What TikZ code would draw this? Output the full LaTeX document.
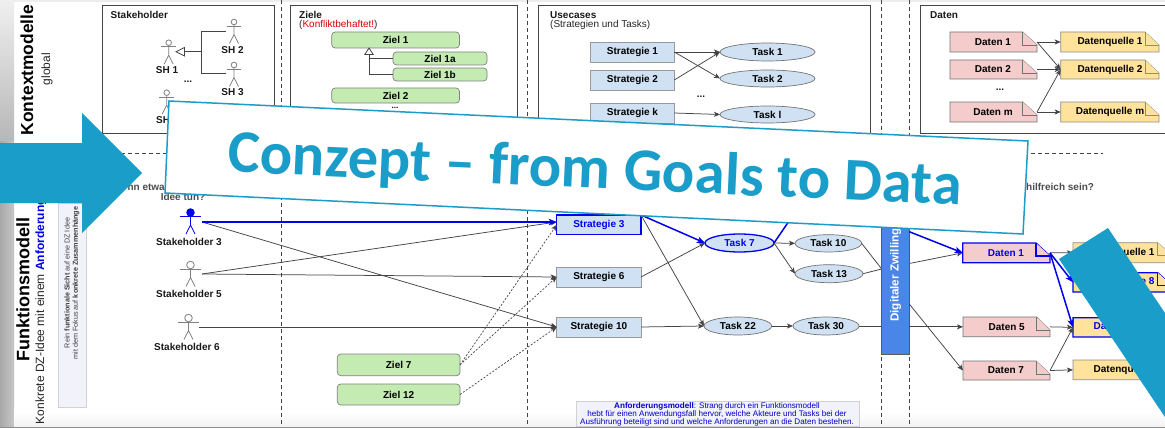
\documentclass[tikz,border=0pt]{standalone}
\usepackage{fontspec}
\setmainfont{Liberation Sans}
\newfontfamily\rktitle{Carlito}
\usetikzlibrary{arrows.meta,shapes.geometric,calc}
\newcommand\rkfs[1]{\fontsize{#1}{#1}\selectfont}
\definecolor{rkteal}{HTML}{1A9DC8}
\definecolor{rkgreen}{HTML}{C3EBB2}
\definecolor{rkblue}{HTML}{CFE1F2}
\definecolor{rkpink}{HTML}{F4CCCC}
\definecolor{rkyellow}{HTML}{FFE29B}
\definecolor{rkpure}{HTML}{0000F0}
\definecolor{rkline}{HTML}{444444}
\definecolor{rkdz}{HTML}{4A86E8}
\definecolor{rknote}{HTML}{F2F2FA}
\newcommand\rkbox[7]{%
  \pgfmathsetmacro\rkW{#5-#3}\pgfmathsetmacro\rkH{#6-#4}%
  \pgfmathsetmacro\rkX{(#3+#5)/2}\pgfmathsetmacro\rkY{(#4+#6)/2}%
  \node[#2,minimum width=\rkW pt,minimum height=\rkH pt,inner sep=0pt,outer sep=0pt] (#1) at (\rkX,\rkY) {#7};}
% name, style, x1,y1,x2,y2, foldx, textx, text
\newcommand\rknoteshape[9]{%
  \pgfmathsetmacro\rkFY{#4+13}%
  \pgfmathsetmacro\rkW{#5-#3}\pgfmathsetmacro\rkH{#6-#4}%
  \pgfmathsetmacro\rkX{(#3+#5)/2}\pgfmathsetmacro\rkY{(#4+#6)/2}%
  \draw[#2] (#3,#4) -- (#7,#4) -- (#5,\rkFY) -- (#5,#6) -- (#3,#6) -- cycle;
  \draw[#2] (#7,#4) -- (#7,\rkFY) -- (#5,\rkFY);
  \node[minimum width=\rkW pt,minimum height=\rkH pt,inner sep=0pt,outer sep=0pt] (#1) at (\rkX,\rkY) {};
  \node[lab,text=\rkNoteText] (#1t) at (#8,\rkY) {#9};}
\newcommand\rkNoteText{black}
% x, y of head, head radius, arm half width, colour
\newcommand\rkactor[5]{%
  \begin{scope}[shift={(#1,#2)},color=#5,line width=.8pt]
    \draw (0,0) circle[radius=#3];
    \draw (-#4,4.2) -- (#4,4.2);
    \draw (0,#3) -- (0,12.5) -- (-4.5,21.5) (0,12.5) -- (4.5,21.5);
  \end{scope}}
\tikzset{
  x=1pt,y=-1pt,
  lab/.style={font=\rkfs{10}\bfseries,inner sep=0pt,text=black!90},
  plain/.style={font=\rkfs{10},inner sep=0pt,anchor=west,text=black!85},
  frame/.style={draw=rkline,line width=.9pt},
  vdash/.style={draw=rkline,line width=.7pt,dash pattern=on 4pt off 3pt},
  goalbox/.style={rectangle,rounded corners=3.5pt,draw=black!50,fill=rkgreen,line width=.7pt,font=\rkfs{10}\bfseries},
  stratbox/.style={rectangle,draw=black!40,fill=rkblue,line width=.8pt,font=\rkfs{10}\bfseries},
  stratsel/.style={rectangle,draw=rkpure,fill=rkblue,line width=1.3pt,font=\rkfs{10}\bfseries,text=rkpure},
  taskell/.style={ellipse,draw=black!55,fill=rkblue,line width=.7pt,font=\rkfs{10}\bfseries},
  tasksel/.style={ellipse,draw=rkpure,fill=rkblue,line width=1.3pt,font=\rkfs{10}\bfseries,text=rkpure},
  pinknote/.style={draw=black!55,fill=rkpink,line width=.8pt},
  pinksel/.style={draw=rkpure,fill=rkpink,line width=1.3pt},
  yellownote/.style={draw=black!45,fill=rkyellow,line width=.8pt},
  yellowsel/.style={draw=rkpure,fill=rkyellow,line width=1.3pt},
  conn/.style={draw=rkline,line width=.75pt,-{Stealth[length=6pt,width=5pt,inset=1.5pt]}},
  plainconn/.style={draw=rkline,line width=.75pt},
  dotconn/.style={draw=rkline,line width=.7pt,dash pattern=on 2pt off 1.6pt,-{Stealth[length=6pt,width=5pt,inset=1.5pt]}},
  selconn/.style={draw=rkpure,line width=1.5pt,-{Stealth[length=8pt,width=6.5pt,inset=2pt]}},
  inherit/.style={draw=rkline,line width=.9pt},
  opentri/.style={draw=rkline,fill=white,line width=.8pt},
}
\begin{document}
\begin{tikzpicture}
\clip (0,0) rectangle (1165,428);
\fill[white] (0,0) rectangle (1165,428);
% slide backdrop
\shade[left color=black!34,right color=black!22] (0,140) rectangle (14,428);
\shade[top color=black!6,bottom color=black!28] (0,0) rectangle (14,140);
\fill[black!7] (14,0) rectangle (1165,2);
\shade[top color=white,bottom color=black!5] (14,412) rectangle (1165,427);
\fill[black!45] (0,427) rectangle (1165,428);

% section titles
\node[font=\rkfs{17.4}\bfseries,rotate=90,inner sep=0pt] (tkm) at (27,70) {Kontextmodelle};
\node[font=\rkfs{12},rotate=90,inner sep=0pt,text=black!85] (tglobal) at (47,69) {global};
\node[font=\rkfs{18}\bfseries,rotate=90,inner sep=0pt] (tfm) at (23,289.5) {Funktionsmodell};
\node[font=\rkfs{12},rotate=90,inner sep=0pt,anchor=west,text=black!85] (tfm2) at (41,424.5) {Konkrete DZ-Idee mit einem \textcolor{rkpure}{\bfseries Anforderung}};
\rkbox{sidenote}{draw=black!18,fill=rknote,line width=.8pt}{58}{203}{86}{407}{}
\node[font=\rkfs{7.2},rotate=90,inner sep=0pt,text=black!75] (sn1) at (67,283) {Rein \textbf{funktionale Sicht} auf eine DZ Idee};
\node[font=\rkfs{7.2},rotate=90,inner sep=0pt,text=black!75] (sn2) at (76,283) {mit dem Fokus auf \textbf{konkrete Zusammenhänge}};

% dashed separators
\draw[vdash] (281,0) -- (281,425);
\draw[vdash] (527,0) -- (527,425);
\draw[vdash] (881.5,0) -- (881.5,425);
\draw[vdash] (909,0) -- (909,425);
\draw[vdash] (100,153.5) -- (1103,153.5);

% context frames
\rkbox{fsh}{frame}{102}{5}{274}{133}{}
\rkbox{fzi}{frame}{290}{5}{517}{133}{}
\rkbox{fuc}{frame}{538.5}{5}{870.5}{133}{}
\rkbox{fda}{frame}{920}{5}{1175}{133}{}
\node[lab,anchor=west] (hsh) at (110.5,14.7) {Stakeholder};
\node[lab,anchor=west] (hzi) at (299,14.7) {Ziele};
\node[plain] (hzi2) at (299,25) {(\textcolor{red!85!black}{Konfliktbehaftet!})};
\node[lab,anchor=west] (huc) at (550,14.7) {Usecases};
\node[plain] (huc2) at (550,25) {(Strategien und Tasks)};
\node[lab,anchor=west] (hda) at (930,14.7) {Daten};

% stakeholders (context)
\rkactor{168.7}{42.7}{2.8}{7.3}{black!50}
\rkactor{234}{22}{2.8}{7.3}{black!50}
\rkactor{234}{65}{2.8}{7.3}{black!50}
\rkactor{166.7}{92.7}{2.8}{7.3}{black!50}
\node[lab] (lsh1) at (167,70) {SH 1};
\node[lab] (lsh2) at (232.5,49.7) {SH 2};
\node[lab] (lsh3) at (232.5,92) {SH 3};
\node[lab,anchor=west] (lshk) at (156,120) {SH};
\node[lab] (lshd) at (188,82) {...};
\coordinate (gtip) at (176,51.7);
\coordinate (gbase) at (184.5,51.7);
\coordinate (gmid) at (201,51.7);
\coordinate (gsh2) at (226,31);
\coordinate (gsh3) at (226,73);
\draw[inherit] (gbase) -- (gmid) (gsh2) -| (gmid) (gsh3) -| (gmid);
\draw[opentri] (gtip) -- (184.5,47.5) -- (184.5,56) -- cycle;

% goals (context)
\rkbox{z1}{goalbox}{331.7}{32}{459.5}{48}{Ziel 1}
\rkbox{z1a}{goalbox}{393}{52}{487}{65}{Ziel 1a}
\rkbox{z1b}{goalbox}{393}{68}{487}{81}{Ziel 1b}
\rkbox{z2}{goalbox}{331.7}{88}{459.5}{103}{Ziel 2}
\node[font=\rkfs{8}\bfseries,inner sep=0pt] (zd) at (395,107.5) {...};
\coordinate (ztop) at (369,54.5);
\draw[inherit] (ztop) |- (z1b.west) (ztop |- z1a.west) -- (z1a.west);
\draw[opentri] (369,48) -- (373.2,54.5) -- (364.8,54.5) -- cycle;

% use cases (context)
\rkbox{cs1}{stratbox}{590.7}{42}{674.3}{62}{Strategie 1}
\rkbox{cs2}{stratbox}{590.7}{70}{674.3}{90}{Strategie 2}
\rkbox{csk}{stratbox}{590.7}{103}{674.3}{123}{Strategie k}
\rkbox{ct1}{taskell}{720}{43}{815}{61}{Task 1}
\rkbox{ct2}{taskell}{720}{70}{815}{87}{Task 2}
\rkbox{ctl}{taskell}{720}{106}{815}{123}{Task l}
\node[lab] (cd) at (701,97) {...};
\draw[conn] (cs1.east) -- (ct1.west);
\draw[conn] (cs1.east) -- (ct2.west);
\draw[conn] (cs2.east) -- (ct1.west);
\draw[conn] (csk.east) -- (ctl.west);

% data (context)
\rknoteshape{cd1}{pinknote}{950}{32}{1037}{52}{1022.7}{993}{Daten 1}
\rknoteshape{cd2}{pinknote}{950}{60}{1037}{79}{1022.7}{993}{Daten 2}
\rknoteshape{cdm}{pinknote}{950}{102}{1037}{122}{1022.7}{993}{Daten m}
\rknoteshape{cq1}{yellownote}{1060.7}{32}{1159}{52}{1145}{1110}{Datenquelle 1}
\rknoteshape{cq2}{yellownote}{1060.7}{60}{1159}{79}{1145}{1110}{Datenquelle 2}
\rknoteshape{cqm}{yellownote}{1060.7}{102}{1159}{122}{1145}{1110}{Datenquelle m}
\node[lab] (ddd) at (1000,89.5) {...};
\draw[conn] (cd1.east) -- (cq1.west);
\draw[conn] (cd1.east) -- (cq2.west);
\draw[conn] (cd2.east) -- (cq2.west);
\draw[conn] (cdm.east) -- (cq2.west);
\draw[conn] (cdm.east) -- (cqm.west);

% questions
\node[font=\rkfs{10}\bfseries,text=black!70,inner sep=0pt,anchor=east] (qa) at (165,187) {nn etwa};
\node[font=\rkfs{10}\bfseries,text=black!70,inner sep=0pt] (qa2) at (183,197) {Idee tun?};
\node[font=\rkfs{10}\bfseries,text=black!70,inner sep=0pt,anchor=west] (qb) at (1026,187) {hilfreich sein?};

% stakeholders (function)
\rkactor{190.5}{212.5}{3.8}{10.7}{rkpure}
\fill[rkpure] (190.5,212.5) circle[radius=3.8];
\rkactor{190.5}{265}{3.8}{10.7}{black!50}
\rkactor{188.5}{318}{3.8}{10.7}{black!50}
\node[lab] (ls3) at (189,242) {Stakeholder 3};
\node[lab] (ls5) at (189,294) {Stakeholder 5};
\node[lab] (ls6) at (187,347) {Stakeholder 6};
\coordinate (a3) at (202,222);
\coordinate (a5) at (202,274);
\coordinate (a6) at (199,327);

% strategies, goals
\rkbox{s3}{stratsel}{556.7}{215}{641}{234.7}{Strategie 3}
\rkbox{s6}{stratbox}{556.7}{267}{641}{287}{Strategie 6}
\rkbox{s10}{stratbox}{556.7}{317}{641}{337}{Strategie 10}
\rkbox{z7}{goalbox}{337.3}{354}{460}{375.7}{Ziel 7}
\rkbox{z12}{goalbox}{337.3}{384}{460}{405}{Ziel 12}
\draw[conn] (a3) -- (s10.west);
\draw[conn] (a5) -- (s3.west |- a3);
\draw[conn] (a5) -- (s6.west);
\draw[conn] (a6) -- (s10.west);
\draw[dotconn] (z7.east) -- (s3.west);
\draw[dotconn] (z7.east) -- (s6.west);
\draw[dotconn] (z12.east) -- (s10.west);
\draw[selconn] (a3) -- (s3.west |- a3);

% tasks
\rkbox{t7}{tasksel}{705}{234}{774}{252}{Task 7}
\rkbox{t10}{taskell}{795}{234.7}{861.7}{252}{Task 10}
\rkbox{t13}{taskell}{795}{264.7}{863}{282.7}{Task 13}
\rkbox{t22}{taskell}{704}{317}{771.7}{335}{Task 22}
\rkbox{t30}{taskell}{793}{317}{859}{335}{Task 30}
\draw[conn] (s6.east) -- (t7.west);
\draw[conn] (s3.north east) -- (t22.west);
\draw[conn] (s10.east) -- (t22.west);
\draw[selconn] (s3.north east) -- (t7.west);
\draw[conn] (t7.east) -- (t10.west);
\draw[conn] (t7.east) -- (t13.west);
\draw[conn] (t22.east) -- (t30.west);
\coordinate (t7up) at (800,205);
\draw[draw=rkpure,line width=1.5pt] (t7.east) -- (t7up);

% data (function) and digital twin
\coordinate (dzin) at (881.7,269);
\coordinate (dzo1) at (909.3,231.7);
\coordinate (dzo2) at (909.3,304);
\rknoteshape{d5}{pinknote}{963}{317}{1050}{336.7}{1036.7}{1006.7}{Daten 5}
\rknoteshape{d7}{pinknote}{963}{361}{1050}{380}{1036}{1006}{Daten 7}
\renewcommand\rkNoteText{rkpure}
\rknoteshape{d1}{pinksel}{962.7}{243}{1050}{262.7}{1036}{1006}{Daten 1}
\rknoteshape{q8}{yellowsel}{1073}{272.7}{1172}{292}{1157.7}{1122}{Datenquelle 8}
\rknoteshape{qs}{yellowsel}{1073}{317.7}{1172}{337}{1157.7}{1122}{Datenquelle}
\renewcommand\rkNoteText{black}
\rknoteshape{q1n}{yellownote}{1073}{242.7}{1172}{262.7}{1157.7}{1122}{Datenquelle 1}
\rknoteshape{q3}{yellownote}{1073}{360}{1172}{379.7}{1157.7}{1122}{Datenquelle}
\draw[plainconn] (t10.east) -- (dzin);
\draw[plainconn] (t13.east) -- (dzin);
\draw[plainconn] (t30.east) -- (t30.east -| dzin);
\draw[conn] (dzin) -- (d1.west);
\rkbox{dz}{draw=black!65,fill=rkdz,line width=.9pt}{881.7}{165}{909.3}{354.7}{}
\node[font=\rkfs{11.7}\bfseries,text=white,rotate=90,inner sep=0pt,anchor=west] (dzt) at (895.5,322) {Digitaler Zwilling};
\draw[selconn] (dzo1) -- (d1.west);
\draw[conn] (dz.east |- d5.west) -- (d5.west);
\draw[conn] (dzo2) -- (d7.west);
\draw[conn] (d1.east) -- (q1n.west);
\draw[selconn] (d1.east) -- (q8.west);
\draw[selconn] (d1.east) -- (qs.west);
\draw[conn] (d5.east) -- (qs.west);
\draw[conn] (d7.east) -- (qs.west);
\draw[conn] (d7.east) -- (q3.west);

% requirement note
\rkbox{req}{draw=black!18,fill=rknote,line width=.8pt}{576}{401}{859}{426}{}
\node[font=\rkfs{8.1},text=rkpure!85!black,inner sep=0pt,align=center] (reqt) at (717,414.3) {\textbf{Anforderungsmodell}: Strang durch ein Funktionsmodell\\hebt für einen Anwendungsfall hervor, welche Akteure und Tasks bei der\\Ausführung beteiligt sind und welche Anforderungen an die Daten bestehen.};

% overlay shapes
\fill[rkteal] (0,143) -- (82,143) -- (82,113) -- (142,173) -- (82,233) -- (82,203) -- (0,203) -- cycle;
\fill[rkteal] (1108,228) -- (1059,259) -- (1175,432) -- (1175,328) -- cycle;
\draw[draw=rkteal,fill=white,line width=1.5pt] (169,101) -- (1028,141) -- (1023,234) -- (165,193) -- cycle;
\node[font=\rktitle\rkfs{60.5}\bfseries,text=rkteal,rotate=-2.6,inner sep=0pt] (title) at (595,172) {Conzept – from Goals to Data};
\end{tikzpicture}
\end{document}
